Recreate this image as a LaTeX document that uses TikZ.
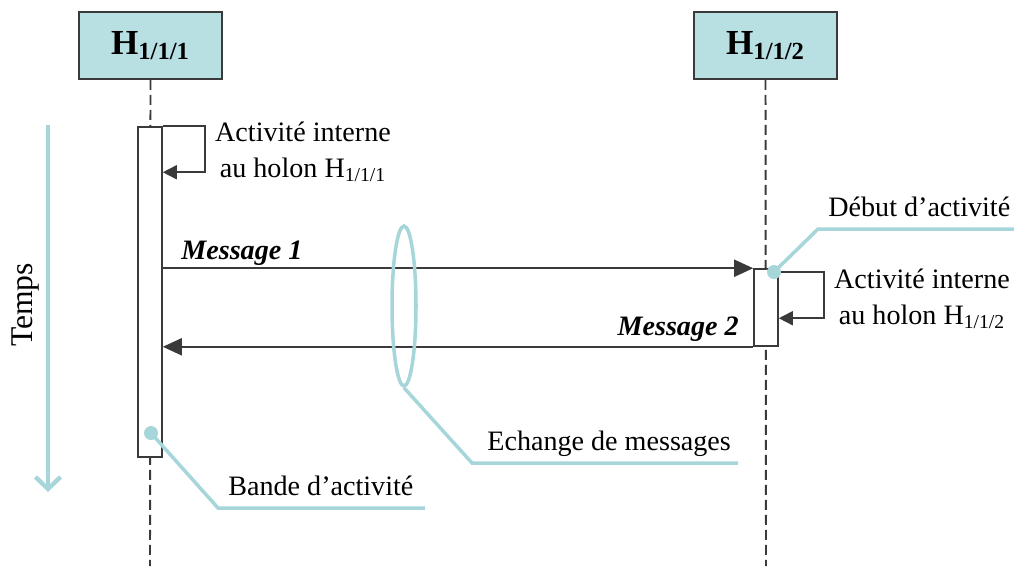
\documentclass[tikz,border=0pt]{standalone}
\usepackage{fontspec}
\setmainfont{Liberation Serif}
\usetikzlibrary{arrows.meta,shapes.geometric,positioning}
\definecolor{holonfill}{HTML}{B8E0E3}
\definecolor{calloutcol}{HTML}{A6D6DA}
\definecolor{linegray}{HTML}{3A3A3A}

\begin{document}
\begin{tikzpicture}[x=0.02cm, y=-0.02cm,
    holon/.style={draw=linegray, line width=1.1pt, fill=holonfill, minimum width=2.86cm, minimum height=1.34cm, font=\fontsize{20}{24}\selectfont\bfseries},
    bar/.style={draw=linegray, line width=0.9pt, fill=white, minimum width=0.48cm, inner sep=0pt},
    life/.style={draw=linegray, line width=1.1pt, dash pattern=on 0.2cm off 0.1cm},
    msgarr/.style={draw=linegray, line width=1.1pt, -{Triangle[length=0.38cm,width=0.34cm]}},
    selfarr/.style={draw=linegray, line width=0.9pt, -{Triangle[length=0.28cm,width=0.28cm]}},
    timearr/.style={draw=calloutcol, line width=2.5pt, -{Straight Barb[length=0.24cm,width=0.5cm]}},
    msg/.style={font=\fontsize{16}{19}\selectfont\bfseries\itshape, inner sep=0pt},
    note/.style={font=\fontsize{16}{20.4}\selectfont, align=center, inner sep=0pt},
    callout/.style={draw=calloutcol, line width=2pt},
    dot/.style={circle, fill=calloutcol, minimum size=0.28cm, inner sep=0pt}
]
\useasboundingbox (0,0) rectangle (1014,566);

% holons and lifelines
\node[holon] (h1) at (150.5,45.5) {H\textsubscript{1/1/1}};
\node[holon] (h2) at (765.5,45.5) {H\textsubscript{1/1/2}};
\coordinate (end1) at (150,566);
\coordinate (end2) at (766,566);
\draw[life] (h1.south) -- (end1);
\draw[life] (h2.south) -- (end2);

% activity bands
\node[bar, minimum height=6.6cm] (bar1) at (150,292) {};
\node[bar, minimum height=1.54cm] (bar2) at (766,307.5) {};

% internal activity
\draw[selfarr] (bar1.north east) -- ++(42,0) -- ++(0,46) -- ++(-42,0);
\draw[selfarr] ([yshift=-0.08cm]bar2.north east) -- ++(45,0) -- ++(0,46) -- ++(-45,0);
\node[note] (int1) at (303,152) {Activité interne\\au holon H\textsubscript{1/1/1}};
\node[note] (int2) at (922,299) {Activité interne\\au holon H\textsubscript{1/1/2}};

% messages
\draw[msgarr] (bar1.east |- bar2.north west) -- (bar2.north west);
\draw[msgarr] (bar2.south west) -- (bar1.east |- bar2.south west);
\node[msg, anchor=base west] (m1) at (181,259) {Message 1};
\node[msg, anchor=base east] (m2) at (739,335) {Message 2};

% time axis
\coordinate (t0) at (48,125);
\coordinate (t1) at (48,492);
\draw[timearr] (t0) -- (t1);
\node[rotate=90, font=\fontsize{18}{22}\selectfont] (temps) at (26,305) {Temps};

% callouts
\node[ellipse, draw=calloutcol, line width=2pt, minimum width=0.48cm, minimum height=3.2cm, inner sep=0pt] (xchg) at (404,306) {};
\coordinate (xchgknee) at (472,463);
\coordinate (xchgend) at (738,463);
\draw[callout] (xchg.south) -- (xchgknee) -- (xchgend);
\node[note, anchor=base west] (xchglbl) at (487,450) {Echange de messages};

\node[dot] (bandedot) at (151,433) {};
\coordinate (bandeknee) at (218,508);
\coordinate (bandeend) at (425,508);
\draw[callout] (bandedot.center) -- (bandeknee) -- (bandeend);
\node[note, anchor=base west] (bandelbl) at (228,495) {Bande d’activité};

\node[dot] (debutdot) at (774,272) {};
\coordinate (debutknee) at (818,229);
\coordinate (debutend) at (1014,229);
\draw[callout] (debutdot.center) -- (debutknee) -- (debutend);
\node[note, anchor=base west] (debutlbl) at (828,216) {Début d’activité};
\end{tikzpicture}
\end{document}
